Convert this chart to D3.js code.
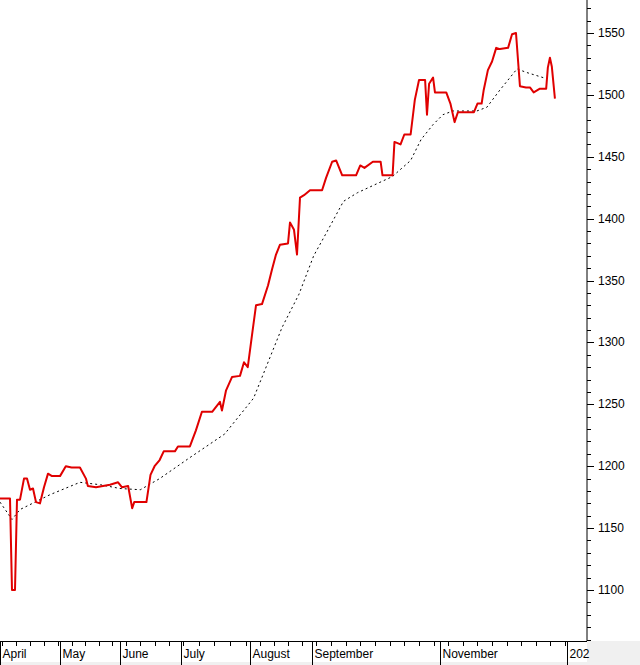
<!DOCTYPE html>
<html><head><meta charset="utf-8">
<script src="https://cdn.jsdelivr.net/npm/d3@7"></script>
<style>body{margin:0;background:#fff}svg{display:block}text{font-family:"Liberation Sans",Arial,sans-serif}</style>
</head><body><svg id="chart" width="640" height="665"></svg>
<script>
// price series: days since 1 April and closing values
var priceDays = [0,4,5,6,7.5,8.5,10,12,13.5,15,16.5,18,20,22,24,26,30,33,36,40.3,43.4,44.4,48.6,55.8,60,62,65,67,68,74,76,78,80.5,82.5,88,89.5,95,97.7,100.4,105,108.5,109.4,111.2,113.9,117.5,119.3,121,123,125,128,131,133,135,137,141,142,144,145.5,147,149,152,157.8,159.7,162.6,164.5,167.4,174,176,178,182,185.7,186.6,191.4,192.3,195.2,197,200,202,204,206.9,207.8,208.8,210.7,211.6,217,219,221,222.6,230.3,232,234,235,237,239,241,242.8,246.7,248.6,250.5,252.4,255.3,257.2,259,262,265,265.8,266.8,267.7,269.2];
var priceVals = [1174,1174,1174,1100,1100,1173,1173,1190,1190,1181,1182,1171,1170,1183,1194,1192,1192,1200,1199,1199,1190,1184,1183,1185,1187,1183,1184,1166,1171,1171,1193,1200,1205,1212,1212,1216,1216,1229,1244,1244,1252,1245,1261,1272,1273,1284,1280,1306,1330,1331,1346,1359,1371,1379,1380,1397,1391,1371,1417,1419,1423,1423,1433,1446,1447,1435,1435,1443,1441,1446,1446,1435,1435,1462,1460,1468,1468,1496,1512,1512,1484,1509,1514,1502,1502,1493,1478,1486,1486,1493,1493,1504,1520,1527,1538,1537,1538,1549,1550,1507,1506,1506,1502,1505,1505,1522,1530,1523,1497];
// moving average (dotted)
var maDays = [0,6,10,15,25,40.3,51,61,71,80.5,95,110.6,123.8,138,146.5,153.8,160,168,174.7,191.3,200,205,210.7,215.4,220.2,231.7,236.5,242.8,251,255.8,265.4];
var maVals = [1171,1157,1165,1169,1177,1187,1185,1182,1181,1190,1207,1226,1255,1312,1339,1370,1389,1414,1421,1434,1447,1464,1476,1484,1487,1487,1490,1504,1521,1518,1513];
var monthLabels = ["April","May","June","July","August","September","November","202"];
var monthDays = [0,30,61,91,122,153,214,275];
var monthX = [0,60,120,181,250,312,440,567];
var yTicks = [1100,1150,1200,1250,1300,1350,1400,1450,1500,1550];

var start = new Date(2023,3,1);
function toDate(d){ return new Date(start.getTime() + d*86400000); }
var svg = d3.select("#chart");
var W = 587, H = 641;
// the source axis spaces months unevenly (trading sessions), so a piecewise time scale
var x = d3.scaleTime().domain(monthDays.map(toDate)).range(monthX);
var y = d3.scaleLinear().domain([1100,1550]).range([590,33]);

var price = priceDays.map(function(d,i){ return {d:toDate(d), v:priceVals[i]}; });
var ma = maDays.map(function(d,i){ return {d:toDate(d), v:maVals[i]}; });

var line = d3.line().x(function(p){return x(p.d);}).y(function(p){return y(p.v);});

svg.append("rect").attr("x",W).attr("y",H).attr("width",640-W).attr("height",24).attr("fill","#f0f0f0");
svg.append("rect").attr("x",0).attr("y",662).attr("width",640).attr("height",3).attr("fill","#f0f0f0");

svg.append("path").datum(ma).attr("d",line).attr("fill","none").attr("stroke","#000").attr("stroke-width",1).attr("stroke-dasharray","2,3");
svg.append("path").datum(price).attr("d",line).attr("fill","none").attr("stroke","#e00000").attr("stroke-width",2).attr("stroke-linejoin","round");

// right axis
var gY = svg.append("g");
gY.append("line").attr("x1",W).attr("x2",W).attr("y1",0).attr("y2",H).attr("stroke","#000");
d3.range(1060,1590,10).forEach(function(v){
  var yy = Math.round(y(v))+0.5; if (yy<0||yy>H) return;
  var major = v%50===0;
  gY.append("line").attr("x1",W).attr("x2",W+(major?7:4)).attr("y1",yy).attr("y2",yy).attr("stroke","#000");
});
yTicks.forEach(function(v){
  gY.append("text").attr("x",598).attr("y",y(v)+4).attr("font-size",12).text(v);
});

// bottom axis
var gX = svg.append("g");
gX.append("line").attr("x1",0).attr("x2",W).attr("y1",H+0.5).attr("y2",H+0.5).attr("stroke","#000");
d3.timeWeek.range(start, toDate(275)).forEach(function(d){
  var xx = Math.round(x(d))+0.5;
  gX.append("line").attr("x1",xx).attr("x2",xx).attr("y1",H).attr("y2",H+5).attr("stroke","#000");
});
monthDays.forEach(function(d,i){
  var xx = Math.round(x(toDate(d)))+0.5;
  gX.append("line").attr("x1",xx).attr("x2",xx).attr("y1",H).attr("y2",665).attr("stroke","#000");
  gX.append("text").attr("x",xx+2).attr("y",658).attr("font-size",12).text(monthLabels[i]);
});
</script></body></html>
